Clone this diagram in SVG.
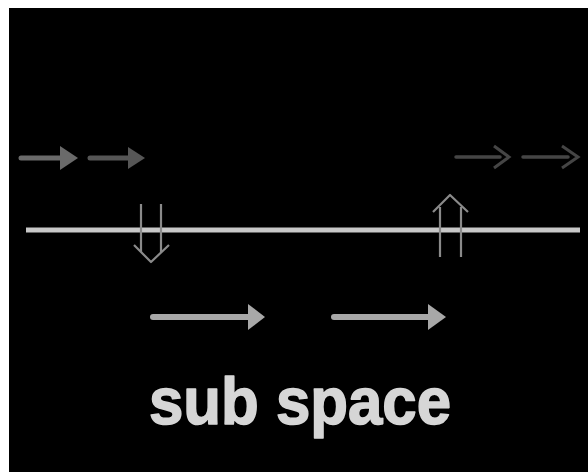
<svg xmlns="http://www.w3.org/2000/svg" width="588" height="472" viewBox="0 0 588 472">
<style>
.shaft{stroke-linecap:round;fill:none}
.dbl{fill:none;stroke:#8a8a8a;stroke-width:2.2;stroke-linejoin:round}
.label{font-family:"Liberation Sans",Arial,sans-serif;font-weight:bold;font-size:67px;fill:#d6d6d6;stroke:#d6d6d6;stroke-width:1.6;stroke-linejoin:round}
</style>
<rect x="0" y="0" width="588" height="472" fill="#ffffff"/>
<rect x="9" y="8" width="579" height="464" fill="#000000"/>
<g id="baseline">
<line x1="26" y1="230" x2="580" y2="230" stroke="#c8c8c8" stroke-width="5"/>
</g>
<g id="connectors">
<g id="arrow-top-1">
<line class="shaft" x1="21" y1="158" x2="62" y2="158" stroke="#6a6a6a" stroke-width="5"/>
<path d="M60,146 L78,158 L60,170 Z" fill="#6a6a6a"/>
</g>
<g id="arrow-top-2">
<line class="shaft" x1="90" y1="158" x2="130" y2="158" stroke="#565656" stroke-width="5"/>
<path d="M128,147 L145,158 L128,169 Z" fill="#565656"/>
</g>
<g id="arrow-top-3">
<line class="shaft" x1="456" y1="157" x2="500" y2="157" stroke="#454545" stroke-width="3.5"/>
<path d="M494,146 L509,157 L494,168" fill="none" stroke="#454545" stroke-width="3"/>
</g>
<g id="arrow-top-4">
<line class="shaft" x1="523" y1="157" x2="568" y2="157" stroke="#454545" stroke-width="3.5"/>
<path d="M562,146 L578,157 L562,168" fill="none" stroke="#454545" stroke-width="3"/>
</g>
<g id="arrow-down">
<line class="dbl" x1="141" y1="204" x2="141" y2="252"/>
<line class="dbl" x1="161" y1="204" x2="161" y2="252"/>
<path class="dbl" d="M134,245 L151,262 L169,245"/>
</g>
<g id="arrow-up">
<line class="dbl" x1="440" y1="207" x2="440" y2="257"/>
<line class="dbl" x1="461" y1="207" x2="461" y2="257"/>
<path class="dbl" d="M433,212 L450,195 L468,212"/>
</g>
<g id="arrow-bottom-1">
<line class="shaft" x1="153" y1="317" x2="252" y2="317" stroke="#a8a8a8" stroke-width="6"/>
<path d="M248,304 L265,317 L248,330 Z" fill="#a8a8a8"/>
</g>
<g id="arrow-bottom-2">
<line class="shaft" x1="334" y1="317" x2="432" y2="317" stroke="#a8a8a8" stroke-width="6"/>
<path d="M428,304 L446,317 L428,330 Z" fill="#a8a8a8"/>
</g>
</g>
<g id="label">
<text class="label" x="149" y="424" textLength="302" lengthAdjust="spacingAndGlyphs">sub space</text>
</g>
</svg>
